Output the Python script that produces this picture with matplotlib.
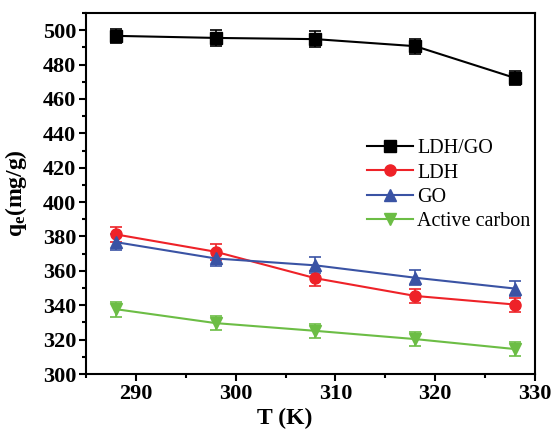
import matplotlib
matplotlib.use('Agg')
from matplotlib import pyplot as plt
from matplotlib.ticker import MultipleLocator

# temperatures (K)
T = [288, 298, 308, 318, 328]

# adsorption capacity qe (mg/g) and error bars
ldh_go = [496.7, 495.5, 494.8, 490.7, 472.2]
ldh_go_err = [4.0, 4.9, 4.5, 4.4, 4.2]
ldh = [381.2, 371.1, 355.7, 345.4, 340.4]
ldh_err = [4.6, 4.7, 4.3, 4.2, 4.1]
go = [376.7, 367.2, 363.2, 356.0, 349.7]
go_err = [4.5, 4.2, 4.6, 4.4, 4.4]
carbon = [337.7, 329.6, 325.1, 320.3, 314.5]
carbon_err = [4.4, 4.0, 4.2, 4.3, 4.3]

labels = ['LDH/GO', 'LDH', 'GO', 'Active carbon']
colors = ['#000000', '#ee2228', '#3a53a4', '#6cbd45']
markers = ['s', 'o', '^', 'v']

plt.rcParams['font.family'] = ['Liberation Serif', 'DejaVu Serif']
plt.rcParams['mathtext.fontset'] = 'custom'
plt.rcParams['mathtext.rm'] = 'Liberation Serif'
plt.rcParams['mathtext.bf'] = 'Liberation Serif:bold'

fig = plt.figure(figsize=(5.53, 4.30), dpi=100)
ax = fig.add_axes([86 / 553, 56 / 430, 449 / 553, 361 / 430])

series = [(ldh_go, ldh_go_err), (ldh, ldh_err), (go, go_err), (carbon, carbon_err)]
for (y, e), lab, c, m in zip(series, labels, colors, markers):
    ax.errorbar(T, y, yerr=e, color=c, marker=m, markersize=8, lw=1.5,
                elinewidth=1.2, capsize=4.5, capthick=1.2, label=lab)

ax.set_xlim(285, 330)
ax.set_ylim(300, 510)
ax.xaxis.set_major_locator(MultipleLocator(10))
ax.xaxis.set_minor_locator(MultipleLocator(5))
ax.yaxis.set_major_locator(MultipleLocator(20))
ax.yaxis.set_minor_locator(MultipleLocator(10))
ax.tick_params(which='major', direction='out', length=5, width=1.5, labelsize=16, pad=2)
ax.tick_params(which='minor', direction='out', length=3, width=1.5)
for lbl in ax.get_xticklabels() + ax.get_yticklabels():
    lbl.set_fontweight('bold')
for s in ax.spines.values():
    s.set_linewidth(1.5)

ax.set_xlabel('T (K)', fontsize=17, fontweight='bold')
ax.set_ylabel(r'$\mathbf{q_e}$(mg/g)', fontsize=17, fontweight='bold')
ax.xaxis.set_label_coords(0.442, -0.095)
ax.yaxis.set_label_coords(-0.128, 0.5)

handles, labs = ax.get_legend_handles_labels()
handles = [h[0] for h in handles]
ax.legend(handles, labs, loc='upper left', bbox_to_anchor=(0.607, 0.673),
          frameon=False, fontsize=14.5, handlelength=2.3, handletextpad=0.2,
          labelspacing=0.26, borderaxespad=0)

fig.savefig('out.png', dpi=100)
